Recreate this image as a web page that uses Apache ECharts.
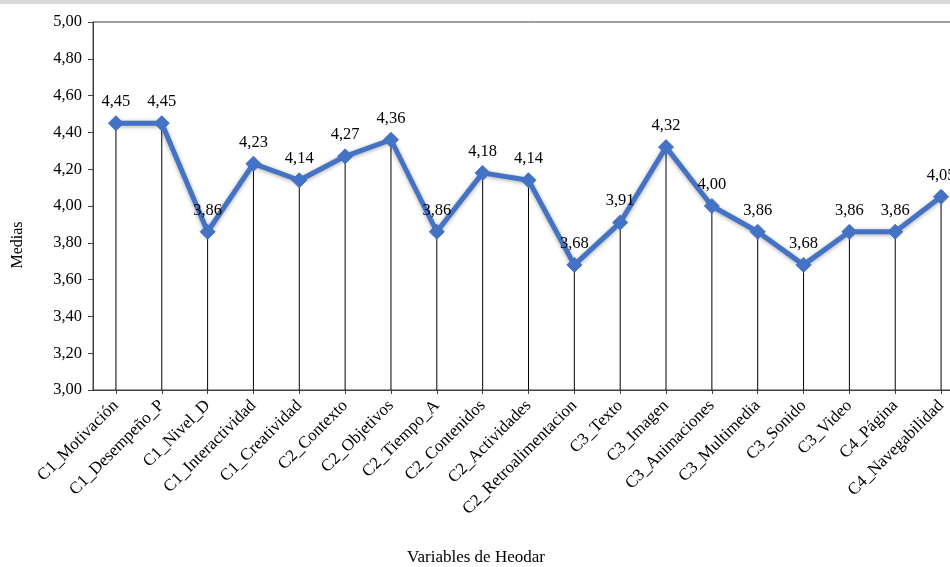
<!DOCTYPE html>
<html>
<head>
<meta charset="utf-8">
<script src="https://cdn.jsdelivr.net/npm/echarts@6/dist/echarts.min.js"></script>
<style>
html,body{margin:0;padding:0;background:#fff;overflow:hidden;width:950px;height:567px;}
#chart{width:966px;height:567px;}
</style>
</head>
<body>
<div id="chart"></div>
<script>
const categories = ["C1_Motivación","C1_Desempeño_P","C1_Nivel_D","C1_Interactividad","C1_Creatividad","C2_Contexto","C2_Objetivos","C2_Tiempo_A","C2_Contenidos","C2_Actividades","C2_Retroalimentacion","C3_Texto","C3_Imagen","C3_Animaciones","C3_Multimedia","C3_Sonido","C3_Video","C4_Página","C4_Navegabilidad"];
const medias = [4.45,4.45,3.86,4.23,4.14,4.27,4.36,3.86,4.18,4.14,3.68,3.91,4.32,4.00,3.86,3.68,3.86,3.86,4.05];
const yTicks = {min:3, max:5, interval:0.2};
const xTitle = "Variables de Heodar";
const yTitle = "Medias";

const FONT = "Liberation Serif";
const chart = echarts.init(document.getElementById('chart'));
const fmt = v => v.toFixed(2).replace('.', ',');
chart.setOption({
  animation:false,
  backgroundColor:'#fff',
  textStyle:{fontFamily:FONT},
  graphic:[
    {type:'rect', left:0, top:0, shape:{width:966,height:4}, style:{fill:'#d9d9d9'}},
    {type:'text', x:18, y:245, rotation:Math.PI/2, style:{text:yTitle, font:'16px "Liberation Serif"', fill:'#000', textAlign:'center', textVerticalAlign:'middle'}},
    {type:'text', x:476, y:558, style:{text:xTitle, font:'17px "Liberation Serif"', fill:'#000', textAlign:'center', textVerticalAlign:'middle'}}
  ],
  grid:{left:93, top:22, width:871, bottom:177, show:true, borderColor:'#404040', borderWidth:1, containLabel:false},
  xAxis:{
    type:'category', data:categories, boundaryGap:true,
    axisLine:{lineStyle:{color:'#404040', width:1}},
    axisTick:{show:true, alignWithLabel:true, length:4, lineStyle:{color:'#404040'}},
    axisLabel:{rotate:45, interval:0, color:'#000', fontSize:17, fontFamily:FONT, margin:13}
  },
  yAxis:{
    type:'value', min:yTicks.min, max:yTicks.max, interval:yTicks.interval,
    axisLine:{show:true, lineStyle:{color:'#404040', width:1}},
    axisTick:{show:true, length:5, lineStyle:{color:'#404040'}},
    splitLine:{show:false},
    axisLabel:{color:'#000', fontSize:16.5, fontFamily:FONT, margin:11, formatter:v=>fmt(v)}
  },
  series:[
    {type:'bar', data:medias, barWidth:1, itemStyle:{color:'#000'}, silent:true, z:1},
    {type:'line', data:medias, z:3,
     lineStyle:{color:'#4472C4', width:5, shadowColor:'rgba(0,0,0,0.35)', shadowBlur:4, shadowOffsetY:1},
     symbol:'diamond', symbolSize:15,
     itemStyle:{color:'#4472C4', borderColor:'#4472C4'},
     label:{show:true, position:'top', distance:5, color:'#000', fontSize:16.5, fontFamily:FONT, formatter:p=>fmt(p.value)}
    }
  ]
});
</script>
</body>
</html>
